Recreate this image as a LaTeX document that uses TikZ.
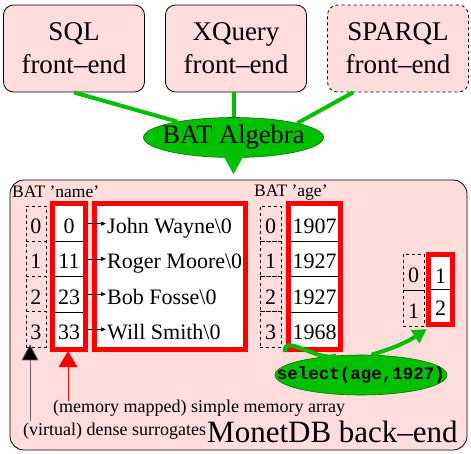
\documentclass[tikz,border=0pt]{standalone}
\usepackage{fontspec}
\setmainfont{Liberation Serif}
\setmonofont{Liberation Mono}
\usetikzlibrary{arrows.meta,shapes.geometric,fit}
\definecolor{bepink}{RGB}{255,221,221}
\definecolor{bagreen}{RGB}{0,192,0}
\tikzset{
  frontend/.style={draw=black, line width=0.8pt, fill=bepink, rounded corners=10pt, minimum width=141pt, minimum height=87pt, inner sep=0pt, align=center, font=\fontsize{27}{33}\selectfont},
  backend/.style={draw=black, line width=0.8pt, fill=bepink, rounded corners=14pt, minimum width=457pt, minimum height=270pt, inner sep=0pt},
  algnode/.style={ellipse, draw=black!40!bagreen, line width=0.6pt, fill=bagreen, inner sep=0pt},
  greenline/.style={draw=bagreen, line width=4pt},
  greenarrow/.style={draw=bagreen, line width=5pt, -{Triangle[length=18pt,width=18pt]}},
  cellfont/.style={font=\fontsize{22}{26}\selectfont, text height=20pt, text depth=0pt},
  surcell/.style={draw, dashed, line width=0.6pt, inner sep=0pt, cellfont},
  valcell/.style={fill=white, inner sep=0pt, cellfont},
  redbox/.style={draw=red, line width=5pt, inner sep=2.5pt},
  batlabel/.style={anchor=base west, inner sep=0pt, font=\fontsize{17.5}{20}\selectfont},
  notelabel/.style={anchor=base west, inner sep=0pt, font=\fontsize{18}{21}\selectfont},
  ptrarrow/.style={line width=0.6pt, -{Triangle[length=5pt,width=4pt]}}
}

\begin{document}
\begin{tikzpicture}[x=1pt,y=1pt,yscale=-1,xscale=1]
\useasboundingbox (0,0) rectangle (471,453);

% Front-end boxes
\node [frontend] (sql) at (74,48.5) {SQL\\front--end};
\node [frontend] (xq) at (236,48.5) {XQuery\\front--end};
\node [frontend, dashed] (sparql) at (398,48.5) {SPARQL\\front--end};

% Text Node
\node [algnode, minimum width=180pt, minimum height=40pt] (alg) at (233.5,137.5) {};
\node [font=\fontsize{26.5}{30}\selectfont, inner sep=0pt] (algtxt) at (alg.center) {BAT Algebra};

%Straight Lines
\draw [greenline] (sql.south) -- (alg);
\draw [greenline] (xq.south -| alg.north) -- (alg.north);
\draw [greenline] ([xshift=-45pt]sparql.south) -- (alg.north east);

% Back-end box
\node [backend] (be) at (238.5,315) {};
\draw [greenarrow] (alg.south) -- ([yshift=-5pt]alg.south |- be.north);

\node [batlabel] (namelbl) at (12,197) {BAT 'name'};
\node [batlabel] (agelbl) at (254,196) {BAT 'age'};

% string heap
\node [draw=red, line width=5pt, fill=white, minimum width=151pt, minimum height=146pt, inner sep=0pt] (heap) at (170,276.5) {};

% BAT 'name' and BAT 'age' rows
\foreach \off/\str/\age [count=\i from 0] in {0/John Wayne/1907, 11/Roger Moore/1927, 23/Bob Fosse/1927, 33/Will Smith/1968}{
  \node [surcell, minimum width=20pt, minimum height=35.25pt] (sur\i) at (36,{223.625+35.25*\i}) {\i};
  \node [valcell, minimum width=28pt, minimum height=35.25pt] (off\i) at (69,{223.625+35.25*\i}) {\off};
  \node [cellfont, anchor=west, inner sep=1pt] (str\i) at (106,{223.625+35.25*\i}) {\str\textbackslash 0};
  \node [surcell, minimum width=21pt, minimum height=35.25pt] (agesur\i) at (270.5,{223.625+35.25*\i}) {\i};
  \node [valcell, minimum width=47pt, minimum height=35.25pt] (age\i) at (314.5,{223.625+35.25*\i}) {\age};
}
\foreach \i in {0,1,2}{
  \draw [line width=0.6pt] (off\i.south west) -- (off\i.south east);
  \draw [line width=0.6pt] (age\i.south west) -- (age\i.south east);
}
\node [redbox, fit=(off0)(off3)] (offbox) {};
\node [redbox, fit=(age0)(age3)] (agebox) {};
\foreach \i in {0,...,3}{
  \draw [ptrarrow] (offbox.east |- off\i) -- (str\i.west);
}

% select result
\node [surcell, minimum width=21pt, minimum height=36pt] (ressur0) at (413.5,272) {0};
\node [surcell, minimum width=21pt, minimum height=36pt] (ressur1) at (413.5,308) {1};
\node [valcell, minimum width=19pt, minimum height=32.5pt] (res0) at (440.5,273.25) {1};
\node [valcell, minimum width=19pt, minimum height=32.5pt] (res1) at (440.5,305.75) {2};
\draw [line width=0.6pt] (res0.south west) -- (res0.south east);
\node [redbox, fit=(res0)(res1)] (resbox) {};

% Text Node
\node [algnode, minimum width=172pt, minimum height=40pt] (sel) at (361,375) {};
\node [font=\fontsize{17.5}{20}\selectfont\ttfamily\bfseries, inner sep=0pt] (seltxt) at (sel.center) {select(age,1927)};
\draw [draw=bagreen, line width=4pt] ([xshift=-1pt]agebox.south west) to[out=-95,in=160] (sel.142);
\draw [draw=bagreen, line width=4pt, -{Triangle[length=14pt,width=15pt]}] (sel.63) to[bend left=8] ([xshift=1pt,yshift=2pt]resbox.south west);

% annotations
\node [notelabel] (mem) at (53,412) {(memory mapped) simple memory array};
\node [notelabel] (virt) at (23,435) {(virtual) dense surrogates};
\node [anchor=base west, inner sep=0pt, font=\fontsize{31}{36}\selectfont] (monet) at (207,442) {MonetDB back--end};
\coordinate (memarr) at (68,401);
\coordinate (virtarr) at (30,421);
\draw [draw=red, line width=1pt, -{Triangle[length=16pt,width=19pt]}] (memarr) -- ([yshift=-1pt]memarr |- offbox.south);
\draw [draw=black!60, line width=0.8pt, -{Triangle[length=16pt,width=17pt,fill=black]}] (virtarr) -- ([yshift=-3pt]virtarr |- sur3.south);

\end{tikzpicture}
\end{document}
